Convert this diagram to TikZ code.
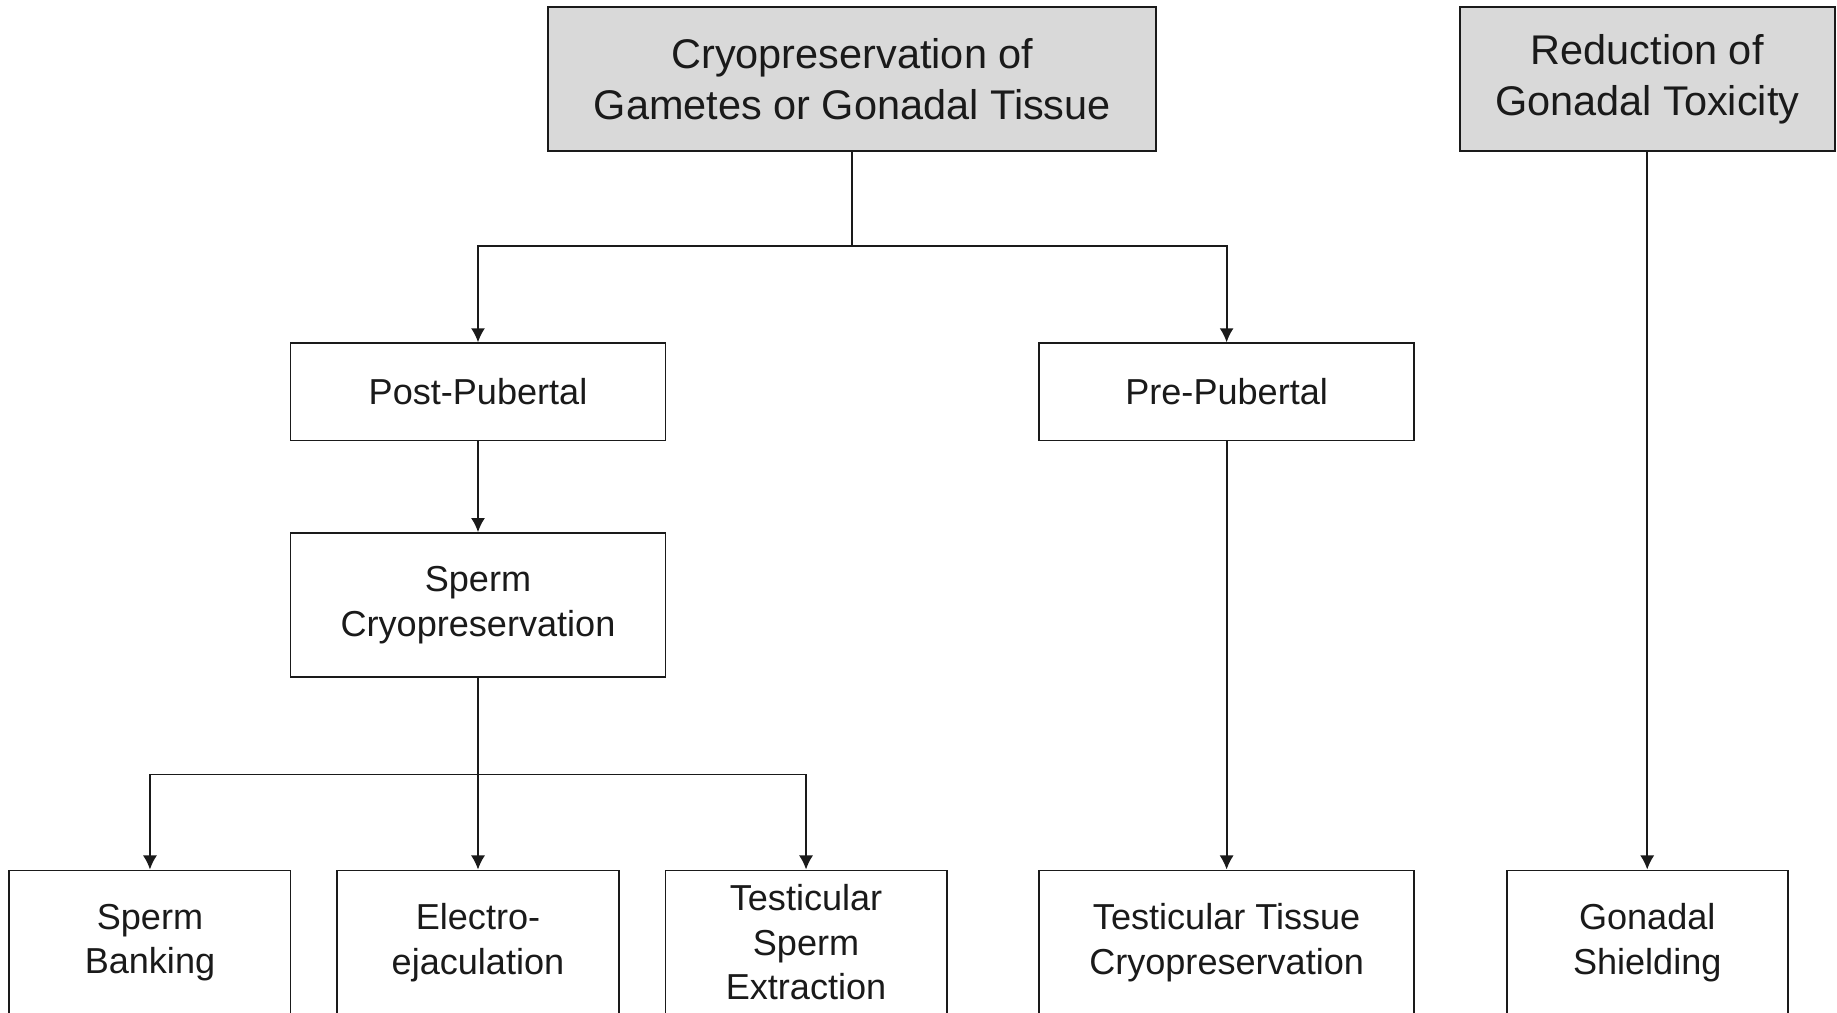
\documentclass[tikz,border=0pt]{standalone}
\usepackage{fontspec}
\setmainfont{Liberation Sans}
\usetikzlibrary{arrows.meta}
\definecolor{boxgray}{HTML}{D9D9D9}
\definecolor{ink}{HTML}{1A1A1A}
\tikzset{
  box/.style={draw=ink, line width=0.8pt, inner sep=0pt, align=center, text=ink,
    font=\fontsize{15.4pt}{19pt}\selectfont},
  topbox/.style={box, fill=boxgray, minimum height=61.5pt,
    font=\fontsize{17.7pt}{22pt}\selectfont},
  arr/.style={draw=ink, line width=0.75pt, -{Latex[length=6pt,width=6pt]}},
  ln/.style={draw=ink, line width=0.75pt}
}
\begin{document}
\begin{tikzpicture}[x=0.5pt,y=-0.5pt]
\clip (0,0) rectangle (1568,864);
\fill[white] (0,0) rectangle (1568,864);
\node[topbox, minimum width=259.5pt] (top) at (727.5,67.5) {Cryopreservation of\\Gametes or Gonadal Tissue};
\node[topbox, minimum width=160pt] (red) at (1406,67.5) {Reduction of\\Gonadal Toxicity};
\node[box, minimum width=160pt, minimum height=41.5pt] (post) at (408,334.5) {Post-Pubertal};
\node[box, minimum width=160pt, minimum height=41.5pt] (pre) at (1047,334.5) {Pre-Pubertal};
\node[box, minimum width=160pt, minimum height=61.5pt] (spc) at (408,516.5) {Sperm\\Cryopreservation};
\node[box, minimum width=120pt, minimum height=61.5pt] (bank) at (128,804.5) {Sperm\\Banking};
\node[box, minimum width=120pt, minimum height=61.5pt] (elec) at (408,804.5) {Electro-\\ejaculation};
\node[box, minimum width=120pt, minimum height=61.5pt] (tse) at (688,804.5) {Testicular\\Sperm\\Extraction};
\node[box, minimum width=160pt, minimum height=61.5pt] (ttc) at (1047,804.5) {Testicular Tissue\\Cryopreservation};
\node[box, minimum width=120pt, minimum height=61.5pt] (gs) at (1406,804.5) {Gonadal\\Shielding};
\coordinate (j1) at (727.5,210);
\coordinate (j2) at (408,661);
\draw[ln] (top.south) -- (j1);
\draw[arr] (j1) -| (post.north);
\draw[arr] (j1) -| (pre.north);
\draw[arr] (post.south) -- (spc.north);
\draw[arr] (spc.south) -- (elec.north);
\draw[arr] (j2) -| (bank.north);
\draw[arr] (j2) -| (tse.north);
\draw[arr] (pre.south) -- (ttc.north);
\draw[arr] (red.south) -- (gs.north);
\end{tikzpicture}
\end{document}
